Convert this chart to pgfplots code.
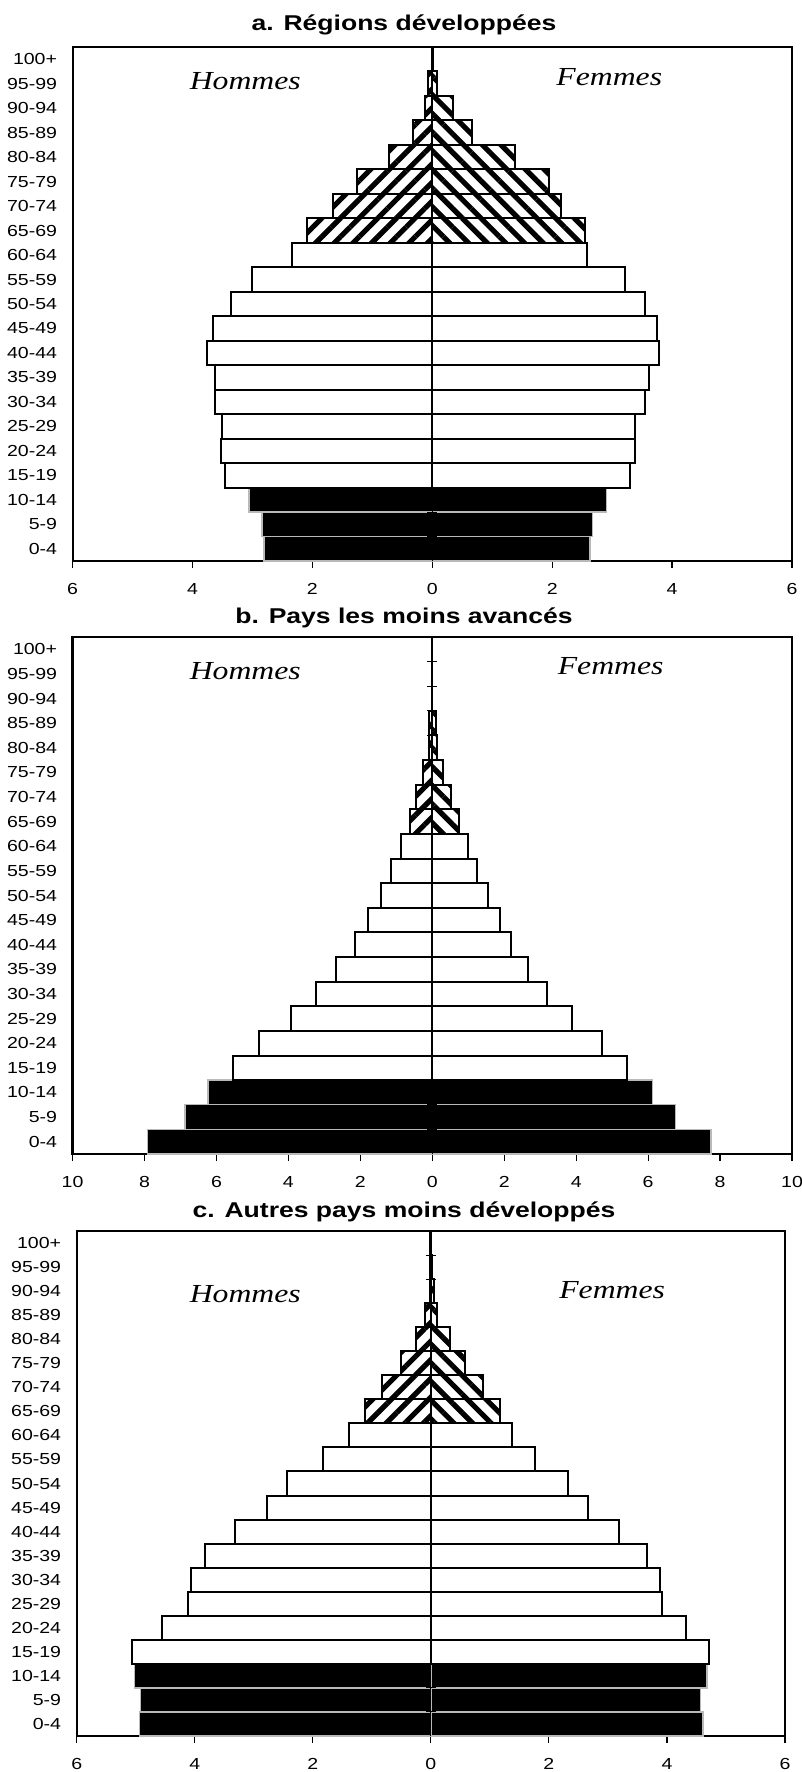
\documentclass[border=0pt]{standalone}
\usepackage{pgfplots}
\usepackage{pgfplotstable}
\pgfplotsset{compat=1.18}
\usepackage{fontspec}
\setmainfont{Liberation Sans}
\newfontfamily\serifit{Liberation Serif}
\usetikzlibrary{patterns.meta}

% i = age group (0 = 0-4 ... 20 = 100+), m = hommes, f = femmes (%)
\pgfplotstableread{
i m f
0 2.81 2.63
1 2.84 2.67
2 3.06 2.91
3 3.46 3.30
4 3.53 3.38
5 3.50 3.38
6 3.62 3.54
7 3.62 3.61
8 3.76 3.78
9 3.65 3.74
10 3.35 3.54
11 3.00 3.22
12 2.34 2.58
13 2.09 2.54
14 1.66 2.14
15 1.26 1.94
16 0.73 1.38
17 0.32 0.66
18 0.13 0.34
19 0.07 0.08
20 0.01 0.01
}\dataA

\pgfplotstableread{
i m f
0 7.92 7.75
1 6.87 6.76
2 6.24 6.12
3 5.55 5.41
4 4.81 4.71
5 3.93 3.88
6 3.24 3.20
7 2.67 2.66
8 2.16 2.20
9 1.78 1.88
10 1.42 1.54
11 1.14 1.25
12 0.88 1.00
13 0.63 0.74
14 0.46 0.53
15 0.27 0.31
16 0.10 0.14
17 0.10 0.10
18 0.00 0.00
19 0.00 0.00
20 0.00 0.00
}\dataB

\pgfplotstableread{
i m f
0 4.94 4.61
1 4.92 4.57
2 5.02 4.68
3 5.06 4.72
4 4.56 4.33
5 4.11 3.91
6 4.07 3.88
7 3.83 3.66
8 3.31 3.18
9 2.77 2.66
10 2.44 2.32
11 1.82 1.77
12 1.39 1.37
13 1.11 1.17
14 0.82 0.88
15 0.50 0.58
16 0.26 0.32
17 0.10 0.10
18 0.02 0.05
19 0.02 0.02
20 0.01 0.01
}\dataC

\pgfplotsset{
  pyr/.style={
    scale only axis,
    xbar, bar width=1, bar shift=0pt,
    ymin=-0.5, ymax=20.5,
    ytick={0,...,20},
    yticklabels={0-4,5-9,10-14,15-19,20-24,25-29,30-34,35-39,40-44,45-49,
      50-54,55-59,60-64,65-69,70-74,75-79,80-84,85-89,90-94,95-99,100+},
    ytick style={draw=none},
    xtick pos=left,
    tick align=outside,
    major tick length=3.5pt,
    xtick style={line width=0.6pt, black},
    axis line style={line width=1.1pt},
    /pgf/number format/assume math mode=true,
    xticklabel={\pgfmathparse{abs(\tick)}\pgfmathprintnumber{\pgfmathresult}},
    ticklabel style={font=\fontsize{8}{9}\selectfont, xscale=1.22},
    yticklabel style={xshift=0pt},
    xticklabel style={yshift=-4pt},
    clip=false,
  },
  young/.style={fill=black, draw=gray!55, line width=0.7pt, restrict y to domain=0:2},
  adult/.style={fill=white, draw=black, line width=1pt, restrict y to domain=3:12},
  oldm/.style={pattern={Lines[angle=45,distance=6.6pt,line width=2.6pt]}, draw=black, line width=1pt, restrict y to domain=13:20},
  oldf/.style={pattern={Lines[angle=-45,distance=6.6pt,line width=2.6pt]}, draw=black, line width=1pt, restrict y to domain=13:20},
}

\newcommand{\pyrplots}[1]{%
  \addplot[young] table[y=i, x expr=-\thisrow{m}] {#1};
  \addplot[adult] table[y=i, x expr=-\thisrow{m}] {#1};
  \addplot[oldm]  table[y=i, x expr=-\thisrow{m}] {#1};
  \addplot[young] table[y=i, x=f] {#1};
  \addplot[adult] table[y=i, x=f] {#1};
  \addplot[oldf]  table[y=i, x=f] {#1};
  \draw[line width=0.6pt] (axis cs:0,-0.5) -- (axis cs:0,20.5);
  \pgfplotsinvokeforeach{0,...,19}{%
    \draw[line width=0.5pt] ([xshift=-2.5pt]axis cs:0,##1.5) -- ([xshift=2.5pt]axis cs:0,##1.5);
  }%
}

\newcommand{\sexlabels}[4]{%
  \node[font=\serifit\itshape\fontsize{13}{15}\selectfont, xscale=1.22] at (rel axis cs:#1,#2) {Hommes};
  \node[font=\serifit\itshape\fontsize{13}{15}\selectfont, xscale=1.22] at (rel axis cs:#3,#4) {Femmes};
}

\begin{document}
\begin{tikzpicture}
\useasboundingbox (0,0) rectangle (401pt,-886pt);

\tikzset{ttl/.style={font=\bfseries\fontsize{10.7}{12}\selectfont, xscale=1.24}}
\node[ttl] at (202pt,-12.5pt) {a. Régions développées};
\node[ttl] at (202pt,-309pt) {b. Pays les moins avancés};
\node[ttl] at (202pt,-606pt) {c. Autres pays moins développés};

\begin{axis}[pyr, at={(36.3pt,-23.5pt)}, anchor=north west,
  width=359.7pt, height=257pt,
  xmin=-6, xmax=6, xtick={-6,-4,...,6}]
\pyrplots{\dataA}
\sexlabels{0.240}{0.934}{0.746}{0.942}
\end{axis}

\begin{axis}[pyr, at={(36.3pt,-318.5pt)}, anchor=north west,
  width=359.7pt, height=258.5pt,
  xmin=-10, xmax=10, xtick={-10,-8,...,10}]
\pyrplots{\dataB}
\sexlabels{0.240}{0.934}{0.748}{0.944}
\end{axis}

\begin{axis}[pyr, at={(38.35pt,-615.5pt)}, anchor=north west,
  width=354.15pt, height=252.5pt,
  xmin=-6, xmax=6, xtick={-6,-4,...,6}]
\pyrplots{\dataC}
\sexlabels{0.238}{0.875}{0.756}{0.883}
\end{axis}
\end{tikzpicture}
\end{document}
